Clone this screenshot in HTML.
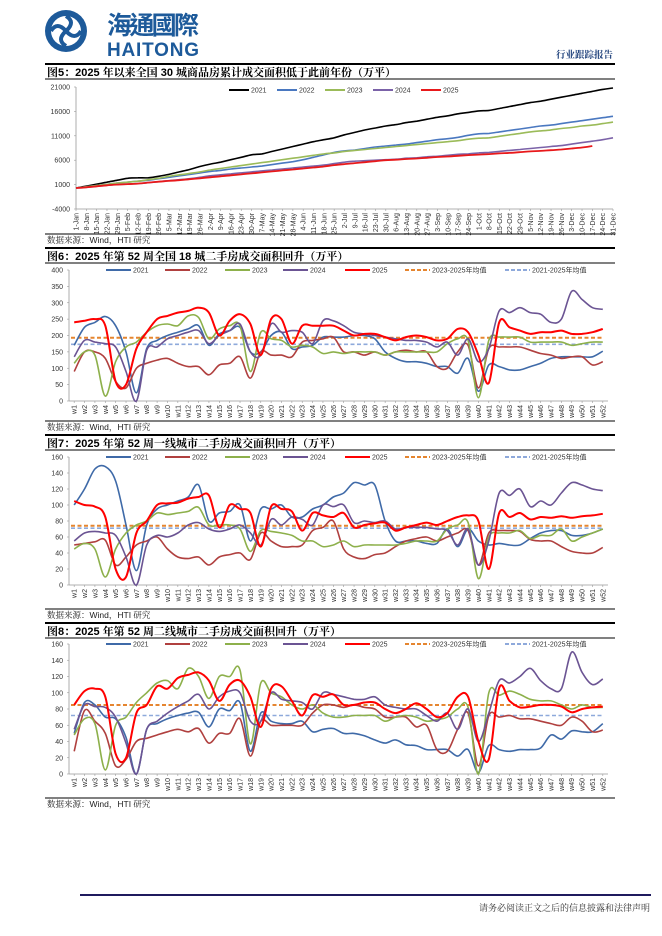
<!DOCTYPE html>
<html><head><meta charset="utf-8">
<style>
html,body{margin:0;padding:0;background:#fff;}
svg{display:block;font-family:"Liberation Sans","Noto Sans CJK SC",sans-serif;}
.t{font-family:"Liberation Sans","Noto Serif CJK SC","Noto Sans CJK SC",serif;font-weight:bold;font-size:11px;fill:#000;}
.tk{font-size:7px;fill:#333;}
.src{font-family:"Liberation Sans","Noto Serif CJK SC",serif;font-size:8.5px;fill:#222;}
</style></head>
<body>
<svg id="page" width="662" height="936" viewBox="0 0 662 936">
  <g>
    <circle cx="66" cy="31" r="21" fill="#1d5a9a"/>
    <circle cx="66" cy="31" r="15" fill="#fff"/>
    <path d="M66 16 q10 6 0 15 q-10 9 0 15" stroke="#1d5a9a" stroke-width="4" fill="none"/>
    <path d="M51 31 q6 -10 15 0 q9 10 15 0" stroke="#1d5a9a" stroke-width="4" fill="none"/>
    <circle cx="66" cy="31" r="3" fill="#1d5a9a"/>
    <text x="107" y="34" font-size="25" fill="#1d5a9a" font-family="'Noto Sans CJK TC','Noto Sans CJK SC',sans-serif" font-weight="bold" textLength="92">海通國際</text>
    <text x="107" y="56" font-size="19" fill="#1d5a9a" font-weight="bold" textLength="92">HAITONG</text>
  </g>
  <text x="613" y="58" text-anchor="end" font-size="9.5" font-weight="bold" fill="#1d3f7a" font-family="'Noto Serif CJK SC',serif">行业跟踪报告</text>
  <g id="charts"></g>
  <line x1="80" y1="895" x2="651" y2="895" stroke="#1f1a5e" stroke-width="2"/>
  <text x="650" y="911" text-anchor="end" font-size="9" fill="#333" font-family="'Noto Serif CJK SC',serif">请务必阅读正文之后的信息披露和法律声明</text>
</svg>
<script>
const dates1 = ["1-Jan","8-Jan","15-Jan","22-Jan","29-Jan","5-Feb","12-Feb","19-Feb","26-Feb","5-Mar","12-Mar","19-Mar","26-Mar","2-Apr","9-Apr","16-Apr","23-Apr","30-Apr","7-May","14-May","21-May","28-May","4-Jun","11-Jun","18-Jun","25-Jun","2-Jul","9-Jul","16-Jul","23-Jul","30-Jul","6-Aug","13-Aug","20-Aug","27-Aug","3-Sep","10-Sep","17-Sep","24-Sep","1-Oct","8-Oct","15-Oct","22-Oct","29-Oct","5-Nov","12-Nov","19-Nov","26-Nov","3-Dec","10-Dec","17-Dec","24-Dec","31-Dec"];
const cum2021 = [300,700,1100,1500,1900,2300,2400,2400,2700,3100,3600,4100,4700,5200,5600,6100,6600,7100,7300,7800,8300,8800,9300,9800,10200,10600,11200,11700,12200,12600,13000,13300,13700,14000,14400,14800,15100,15500,15800,16100,16200,16600,17000,17400,17800,18100,18500,18900,19300,19700,20100,20500,20800];
const cum2022 = [300,550,800,1050,1300,1500,1700,1900,2200,2500,2800,3100,3400,3700,3900,4200,4400,4600,4800,5100,5400,5700,6100,6600,7100,7600,7900,8100,8400,8700,8900,9100,9300,9600,9900,10200,10400,10700,11100,11400,11500,11800,12100,12400,12700,13000,13200,13500,13800,14100,14400,14700,15000];
const cum2023 = [300,550,800,1050,1300,1500,1700,2000,2300,2700,3000,3300,3600,4000,4300,4600,4900,5200,5500,5800,6100,6400,6700,7000,7300,7500,7800,8000,8200,8400,8600,8800,9000,9200,9400,9600,9800,10000,10300,10500,10600,10900,11200,11500,11800,12000,12200,12500,12700,13000,13200,13500,13800];
const cum2024 = [300,450,650,850,1000,1100,1200,1400,1600,1800,2000,2200,2500,2800,3000,3200,3400,3600,3800,4000,4200,4400,4600,4800,5000,5300,5600,5800,5900,6000,6100,6200,6400,6500,6700,6800,7000,7200,7300,7500,7600,7800,8000,8200,8400,8600,8800,9000,9300,9600,9900,10200,10600];
const cum2025 = [300,450,650,850,1000,1100,1200,1400,1600,1750,1900,2100,2300,2500,2700,2900,3100,3300,3500,3700,3900,4100,4300,4500,4700,5000,5200,5400,5600,5800,6000,6100,6250,6350,6500,6650,6750,6900,7050,7150,7250,7400,7500,7650,7800,7900,8050,8200,8400,8600,8900];
const ticks1 = [-4000,1000,6000,11000,16000,21000];

const weeks = [];
for (let i = 1; i <= 52; i++) weeks.push("w" + i);

const n2021 = [170,225,240,258,230,150,25,160,185,200,210,220,230,170,205,215,225,150,150,200,210,160,165,170,195,195,195,200,200,190,150,130,120,120,115,105,105,85,130,30,110,105,95,95,105,115,130,135,135,135,135,152];
const n2022 = [90,150,150,130,60,40,100,115,125,130,115,105,105,80,110,115,135,70,150,140,140,135,180,185,190,195,150,150,140,150,140,150,155,150,150,105,100,150,170,40,160,165,165,165,155,145,140,130,135,135,110,120];
const n2023 = [115,150,140,15,120,165,180,210,230,235,230,260,255,190,220,230,230,90,210,190,185,165,170,165,145,150,145,150,150,150,140,150,150,150,150,150,175,190,185,10,185,195,195,195,180,180,180,180,170,175,180,180];
const n2024 = [135,185,180,175,165,90,0,155,165,190,200,210,215,175,200,215,235,150,140,235,210,215,210,175,245,245,230,210,205,200,195,190,185,185,180,165,180,140,190,120,160,275,270,285,270,265,240,250,335,310,285,280];
const n2025 = [240,245,250,230,60,50,160,210,250,260,270,275,285,270,200,245,265,235,140,250,250,175,230,230,230,230,215,200,205,205,195,185,195,200,195,185,190,220,210,140,55,240,225,215,205,210,210,215,205,205,210,220];
const nAvgA = 193, nAvgB = 173;
const ticks2 = [0,50,100,150,200,250,300,350,400];

const f2021 = [100,120,145,148,130,75,18,75,95,100,105,110,125,80,90,92,100,55,95,95,100,85,85,95,100,110,115,128,125,125,80,55,55,55,52,52,70,48,70,55,50,52,50,50,58,65,68,68,62,62,65,70];
const f2022 = [50,52,54,56,25,35,50,55,60,45,35,33,35,25,35,38,40,32,65,55,48,48,50,68,72,80,45,35,33,38,40,48,55,58,60,55,60,65,68,25,65,68,68,67,57,55,55,48,42,40,40,47];
const f2023 = [45,52,45,10,45,65,75,80,90,88,90,92,97,75,75,75,70,42,68,67,65,62,55,55,48,50,55,48,50,50,50,50,52,55,55,55,70,75,78,8,60,65,65,68,58,62,62,70,55,60,65,70];
const f2024 = [55,65,67,65,62,35,0,50,62,60,65,75,78,70,67,70,75,65,50,82,75,85,82,75,100,98,100,78,80,78,80,70,72,72,72,70,68,50,70,25,55,115,112,120,98,105,100,115,128,125,120,118];
const f2025 = [105,100,98,85,20,10,65,80,100,102,103,108,110,112,72,100,95,90,48,98,95,92,68,90,87,85,90,72,75,77,78,68,72,75,78,75,80,85,87,80,20,90,85,90,82,85,84,86,84,86,87,89];
const fAvgA = 74, fAvgB = 71;
const ticks3 = [0,20,40,60,80,100,120,140,160];

const s2021 = [50,88,85,70,68,45,0,55,62,68,72,75,76,58,80,78,88,28,75,65,62,62,65,52,55,56,50,50,47,42,38,42,36,35,30,30,30,22,30,2,35,30,28,30,30,32,48,43,53,52,52,62];
const s2022 = [28,78,65,50,10,18,40,44,48,52,55,52,56,38,50,50,68,22,65,60,60,60,60,75,85,85,82,85,82,80,70,70,70,58,60,30,28,55,75,10,72,70,72,68,68,65,62,60,70,65,52,54];
const s2023 = [48,68,62,5,60,70,88,100,112,115,105,130,120,93,120,120,128,37,112,100,95,85,80,85,75,70,70,72,72,72,65,70,72,70,65,67,70,80,82,0,100,97,102,98,92,90,90,85,80,85,82,82];
const s2024 = [55,85,83,82,70,38,0,55,65,75,83,90,98,80,95,102,100,65,65,100,92,90,88,80,100,98,95,92,92,95,85,82,80,80,72,65,75,55,80,40,75,115,112,120,130,115,105,105,150,125,110,117];
const s2025 = [85,102,105,95,25,20,75,85,108,105,118,122,125,115,90,110,115,95,58,105,108,90,72,97,95,98,85,85,88,88,80,75,80,87,80,70,75,95,95,40,18,106,90,82,83,85,85,83,76,80,82,83];
const sAvgA = 85, sAvgB = 72;
const ticks4 = ticks3;

const NS = "http://www.w3.org/2000/svg";
const root = document.getElementById("charts");
function mk(tag, attrs, parent) {
  const e = document.createElementNS(NS, tag);
  for (const k in attrs) e.setAttribute(k, attrs[k]);
  (parent || root).appendChild(e);
  return e;
}
function smooth(pts) {
  let d = "M" + pts[0][0].toFixed(1) + " " + pts[0][1].toFixed(1);
  for (let i = 0; i < pts.length - 1; i++) {
    const p0 = pts[i - 1] || pts[i], p1 = pts[i], p2 = pts[i + 1], p3 = pts[i + 2] || p2;
    const c1x = p1[0] + (p2[0] - p0[0]) / 6, c1y = p1[1] + (p2[1] - p0[1]) / 6;
    const c2x = p2[0] - (p3[0] - p1[0]) / 6, c2y = p2[1] - (p3[1] - p1[1]) / 6;
    d += " C" + c1x.toFixed(1) + " " + c1y.toFixed(1) + " " + c2x.toFixed(1) + " " + c2y.toFixed(1) + " " + p2[0].toFixed(1) + " " + p2[1].toFixed(1);
  }
  return d;
}

function chart(c) {
  const g = mk("g", {});
  
  
  const l1 = mk("line", {x1: 45, x2: 615, y1: c.top, y2: c.top, stroke: "#000", "stroke-width": 2}, g);
  
  
  const tt = mk("text", {x: 47, y: c.top + 12, class: "t"}, g);
  tt.textContent = c.title;
  
  
  const l2 = mk("line", {x1: 45, x2: 615, y1: c.top + 15, y2: c.top + 15, stroke: "#000", "stroke-width": 1}, g);
  
  
  const l3 = mk("line", {x1: 45, x2: 615, y1: c.bottom, y2: c.bottom, stroke: "#000", "stroke-width": 1}, g);
  
  
  const src = mk("text", {x: 47, y: c.bottom + 9, class: "src"}, g);
  src.textContent = "数据来源：Wind，HTI 研究";
  
  

  const ymin = c.ticks[0], ymax = c.ticks[c.ticks.length - 1];
  const Y = v => c.y0 + (c.y1 - c.y0) * (v - ymin) / (ymax - ymin);
  const n = c.labels.length;
  const X = c.edge ? (i => c.x0 + (c.x1 - c.x0) * i / (n - 1)) : (i => c.x0 + (c.x1 - c.x0) * (i + 0.5) / n);

  const ya = mk("line", {x1: c.x0, x2: c.x0, y1: c.y1, y2: c.y0, stroke: "#999", "stroke-width": 0.8}, g);
  
  
  const xa = mk("line", {x1: c.x0, x2: c.x1, y1: c.y0, y2: c.y0, stroke: "#999", "stroke-width": 0.8}, g);
  
  
  c.ticks.forEach(v => {
    const t = mk("text", {x: c.x0 - 6, y: Y(v) + 2.5, "text-anchor": "end", class: "tk"}, g);
    t.textContent = v;
    
    
    mk("line", {x1: c.x0 - 2, x2: c.x0, y1: Y(v), y2: Y(v), stroke: "#999", "stroke-width": 0.6}, g);
  });
  c.labels.forEach((lab, i) => {
    const x = X(i);
    mk("line", {x1: x, x2: x, y1: c.y0, y2: c.y0 + 2, stroke: "#999", "stroke-width": 0.6}, g);
    const t = mk("text", {x: x + 2.5, y: c.y0 + 4, "text-anchor": "end", class: "tk", transform: "rotate(-90 " + (x + 2.5) + " " + (c.y0 + 4) + ")"}, g);
    t.textContent = lab;
    
    
  });
  (c.avgs || []).forEach(a => {
    const l = mk("line", {x1: c.x0 + 2, x2: c.x1 - 4, y1: Y(a.v), y2: Y(a.v), stroke: a.color, "stroke-width": a.w, "stroke-dasharray": a.dash}, g);
    
    
  });
  c.series.forEach(s => {
    const pts = s.data.map((v, i) => [X(i), Y(v)]);
    const p = mk("path", {d: smooth(pts), stroke: s.color, "stroke-width": s.w, fill: "none", "stroke-linejoin": "round"}, g);
    
    
  });
  c.legend.forEach(it => {
    const lg = mk("g", {}, g);
    
    
    mk("line", {x1: it.x, x2: it.x + c.legLen, y1: c.legY, y2: c.legY, stroke: it.color, "stroke-width": it.w, "stroke-dasharray": it.dash || "none"}, lg);
    const t = mk("text", {x: it.x + c.legLen + 2, y: c.legY + 2.5, class: "tk"}, lg);
    t.textContent = it.label;
  });
}

const C = {c21: "#3F6AA8", c22: "#B0403F", c23: "#8DB04B", c24: "#6B5493", c25: "#FF0000", oa: "#E5852F", bb: "#8EA9DB"};

chart({
  name: "chart-30-city-cumulative", title: "图5：2025 年以来全国 30 城商品房累计成交面积低于此前年份（万平）",
  top: 64, bottom: 234, x0: 76, x1: 613, y0: 209, y1: 87, ticks: ticks1, labels: dates1, edge: true,
  legY: 90, legLen: 20,
  legend: [{x: 229, color: "#000", w: 2, label: "2021"}, {x: 277, color: "#4a78c0", w: 2, label: "2022"}, {x: 325, color: "#9BBB59", w: 2, label: "2023"}, {x: 373, color: "#7B62A8", w: 2, label: "2024"}, {x: 421, color: "#E8191B", w: 2, label: "2025"}],
  series: [
    {data: cum2021, color: "#000", w: 1.6, dname: "line-2021"},
    {data: cum2022, color: "#4a78c0", w: 1.6, dname: "line-2022"},
    {data: cum2023, color: "#9BBB59", w: 1.6, dname: "line-2023"},
    {data: cum2024, color: "#7B62A8", w: 1.6, dname: "line-2024"},
    {data: cum2025, color: "#E8191B", w: 1.8, dname: "line-2025"}]
});

function weekly(name, title, top, y0, y1, bottom, ticks, d, avgA, avgB) {
  chart({
    name: name, title: title, top: top, bottom: bottom, x0: 69, x1: 608, y0: y0, y1: y1, ticks: ticks, labels: weeks, edge: false,
    legY: y1, legLen: 25,
    legend: [{x: 106, color: C.c21, w: 2, label: "2021"}, {x: 165, color: C.c22, w: 2, label: "2022"}, {x: 225, color: C.c23, w: 2, label: "2023"}, {x: 283, color: C.c24, w: 2, label: "2024"}, {x: 345, color: C.c25, w: 2, label: "2025"},
      {x: 405, color: C.oa, w: 2, dash: "4 2", label: "2023-2025年均值"}, {x: 505, color: C.bb, w: 2, dash: "4 2", label: "2021-2025年均值"}],
    avgs: [{v: avgA, color: C.oa, w: 2, dash: "4 2.5", dname: "avg-2023-2025"}, {v: avgB, color: C.bb, w: 1.6, dash: "4 2.5", dname: "avg-2021-2025"}],
    series: [
      {data: d[0], color: C.c21, w: 1.6, dname: "line-2021"},
      {data: d[1], color: C.c22, w: 1.6, dname: "line-2022"},
      {data: d[2], color: C.c23, w: 1.6, dname: "line-2023"},
      {data: d[3], color: C.c24, w: 1.6, dname: "line-2024"},
      {data: d[4], color: C.c25, w: 2, dname: "line-2025"}]
  });
}
weekly("chart-18-city-resale", "图6：2025 年第 52 周全国 18 城二手房成交面积回升（万平）", 248, 401, 270, 421, ticks2, [n2021, n2022, n2023, n2024, n2025], nAvgA, nAvgB);
weekly("chart-tier1-resale", "图7：2025 年第 52 周一线城市二手房成交面积回升（万平）", 435, 585, 457, 609, ticks3, [f2021, f2022, f2023, f2024, f2025], fAvgA, fAvgB);
weekly("chart-tier2-resale", "图8：2025 年第 52 周二线城市二手房成交面积回升（万平）", 623, 774, 644, 798, ticks4, [s2021, s2022, s2023, s2024, s2025], sAvgA, sAvgB);
</script>
</body></html>
